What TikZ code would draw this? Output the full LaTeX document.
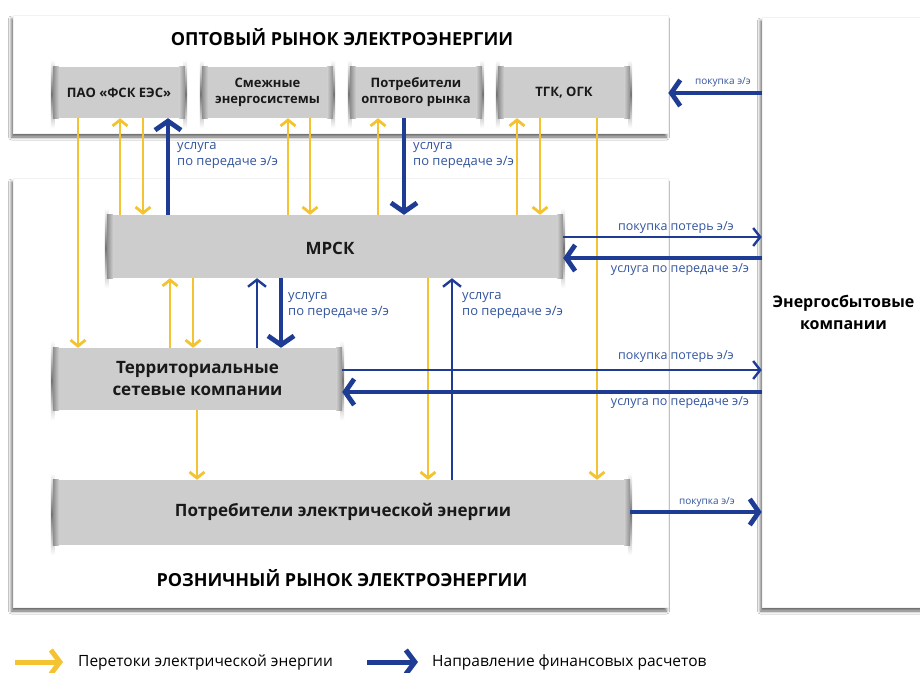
\documentclass[tikz,border=0pt]{standalone}
\usepackage{fontspec}
\setmainfont{Open Sans}
\usetikzlibrary{arrows.meta,shadows.blur}
\definecolor{ylw}{HTML}{F4C332}
\definecolor{blu}{HTML}{1E3C94}
\definecolor{lbl}{HTML}{34559E}
\definecolor{gfill}{HTML}{CDCDCD}
\tikzset{
  market/.style={draw=black!5, fill=white, line width=0.6pt,
    blur shadow={shadow xshift=-1.5pt, shadow yshift=-4pt, shadow blur radius=3pt, shadow opacity=60}},
  gbox/.style={fill=gfill, inner sep=0pt, font=\bfseries, align=center, text=black!90},
  ya/.style={draw=ylw, line width=2.8pt, -{Straight Barb[length=6pt,width=15pt]}},
  bthick/.style={draw=blu, line width=4.8pt, -{Straight Barb[length=9pt,width=26pt]}},
  bthin/.style={draw=blu, line width=2.4pt, -{Straight Barb[length=7pt,width=18pt]}},
  lab/.style={text=lbl, inner sep=0pt, align=left},
}
\newcommand\rollers[1]{%
  \shade[top color=white, bottom color=white, middle color=black!55]
    ([xshift=-2pt,yshift=7pt]#1.north west) rectangle ([xshift=2pt,yshift=-10pt]#1.south west);
  \shade[top color=white, bottom color=white, middle color=black!55]
    ([xshift=-2pt,yshift=7pt]#1.north east) rectangle ([xshift=2pt,yshift=-10pt]#1.south east);
  \shade[left color=black!45, right color=gfill] (#1.north west) rectangle ([xshift=6pt]#1.south west);
  \shade[right color=black!45, left color=gfill] (#1.north east) rectangle ([xshift=-6pt]#1.south east);
}
\begin{document}
\begin{tikzpicture}[x=1pt,y=-1pt]
\useasboundingbox[fill=white] (0,0) rectangle (920,672);
% outer boxes
\node[market, minimum width=655pt, minimum height=118pt, inner sep=0pt] (wm) at (340.5,74) {};
\node[market, minimum width=655pt, minimum height=429pt, inner sep=0pt] (rm) at (340.5,392.5) {};
\node[market, minimum width=163pt, minimum height=590pt, inner sep=0pt, font=\bfseries\fontsize{16}{22}\selectfont, align=center] (es) at (843.5,312) {Энергосбытовые\\компании};
\node[font=\bfseries\fontsize{18}{20}\selectfont] (wmt) at (342,37) {ОПТОВЫЙ РЫНОК ЭЛЕКТРОЭНЕРГИИ};
\node[font=\bfseries\fontsize{18}{20}\selectfont] (rmt) at (342,578) {РОЗНИЧНЫЙ РЫНОК ЭЛЕКТРОЭНЕРГИИ};
% grey boxes
\node[gbox, minimum width=132pt, minimum height=51pt] (fsk) at (119,92.5) {};
\node[gbox, minimum width=131pt, minimum height=51pt] (sm) at (267.5,92.5) {};
\node[gbox, minimum width=132pt, minimum height=51pt] (po) at (416,92.5) {};
\node[gbox, minimum width=132pt, minimum height=51pt] (tgk) at (564,92.5) {};
\node[gbox, minimum width=456pt, minimum height=63pt] (mrsk) at (335,246.5) {};
\node[gbox, minimum width=289pt, minimum height=62pt] (tsk) at (197.5,379) {};
\node[gbox, minimum width=577pt, minimum height=65pt] (pee) at (341.5,512.5) {};
\rollers{fsk}\rollers{sm}\rollers{po}\rollers{tgk}\rollers{mrsk}\rollers{tsk}\rollers{pee}
\begin{scope}[font=\bfseries\fontsize{13}{16}\selectfont, align=center, text=black!90]
\node (fskt) at (fsk) {ПАО «ФСК ЕЭС»};
\node (smt) at (sm) {Смежные\\энергосистемы};
\node (pot) at (po) {Потребители\\оптового рынка};
\node (tgkt) at (tgk) {ТГК, ОГК};
\end{scope}
\begin{scope}[font=\bfseries\fontsize{17}{22}\selectfont, align=center, text=black!90]
\node (mrskt) at (330,248) {МРСК};
\node (tskt) at (tsk) {Территориальные\\сетевые компании};
\node (peet) at (343,512) {Потребители электрической энергии};
\end{scope}
% column and row coordinates
\foreach \n/\x in {A/78,B/120,C/143,D/168,E/288,F/310,G/378,H/404,I/517,J/540,K/597,L/170,M/193,N/257,O/281,P/428,Q/452,R/197}
  \coordinate (c\n) at (\x,0);
\foreach \n/\y in {1/93,2/237,3/258,4/370,5/392,6/512}
  \coordinate (r\n) at (0,\y);
% vertical arrows
\draw[ya] (cA |- fsk.south) -- (cA |- tsk.north);
\draw[ya] (cB |- mrsk.north) -- (cB |- fsk.south);
\draw[ya] (cC |- fsk.south) -- (cC |- mrsk.north);
\draw[bthick] (cD |- mrsk.north) -- (cD |- fsk.south);
\draw[ya] (cE |- mrsk.north) -- (cE |- sm.south);
\draw[ya] (cF |- sm.south) -- (cF |- mrsk.north);
\draw[ya] (cG |- mrsk.north) -- (cG |- po.south);
\draw[bthick] (cH |- po.south) -- (cH |- mrsk.north);
\draw[ya] (cI |- mrsk.north) -- (cI |- tgk.south);
\draw[ya] (cJ |- tgk.south) -- (cJ |- mrsk.north);
\draw[ya] (cK |- tgk.south) -- (cK |- pee.north);
\draw[ya] (cL |- tsk.north) -- (cL |- mrsk.south);
\draw[ya] (cM |- mrsk.south) -- (cM |- tsk.north);
\draw[bthin] (cN |- tsk.north) -- (cN |- mrsk.south);
\draw[bthick] (cO |- mrsk.south) -- (cO |- tsk.north);
\draw[ya] (cP |- mrsk.south) -- (cP |- pee.north);
\draw[bthin] (cQ |- pee.north) -- (cQ |- mrsk.south);
\draw[ya] (cR |- tsk.south) -- (cR |- pee.north);
% horizontal arrows
\draw[bthick] (es.west |- r1) -- (wm.east |- r1);
\draw[bthin] (mrsk.east |- r2) -- (es.west |- r2);
\draw[bthick] (es.west |- r3) -- (mrsk.east |- r3);
\draw[bthin] (tsk.east |- r4) -- (es.west |- r4);
\draw[bthick] (es.west |- r5) -- (tsk.east |- r5);
\draw[bthick] (pee.east |- r6) -- (es.west |- r6);
% labels
\begin{scope}[font=\fontsize{13}{16}\selectfont]
\node[lab, anchor=north west] (l1) at (177,142) {услуга\\по передаче э/э};
\node[lab, anchor=north west] (l2) at (413,142) {услуга\\по передаче э/э};
\node[lab, anchor=north west] (l3) at (288,292) {услуга\\по передаче э/э};
\node[lab, anchor=north west] (l4) at (462,292) {услуга\\по передаче э/э};
\end{scope}
\begin{scope}[font=\fontsize{12.5}{14}\selectfont]
\node[lab] (h2) at (676,228) {покупка потерь э/э};
\node[lab] (h3) at (680,270) {услуга по передаче э/э};
\node[lab] (h4) at (676,357) {покупка потерь э/э};
\node[lab] (h5) at (680,403) {услуга по передаче э/э};
\end{scope}
\begin{scope}[font=\fontsize{10}{12}\selectfont]
\node[lab] (h1) at (723,82) {покупка э/э};
\node[lab] (h6) at (707,502) {покупка э/э};
\end{scope}
% legend
\coordinate (ly1) at (15,662); \coordinate (ly2) at (63,662);
\coordinate (lb1) at (367,662); \coordinate (lb2) at (418,662);
\draw[draw=ylw, line width=5pt, -{Straight Barb[length=9pt,width=24pt]}] (ly1) -- (ly2);
\draw[draw=blu, line width=5pt, -{Straight Barb[length=9pt,width=24pt]}] (lb1) -- (lb2);
\node[anchor=west, inner sep=0pt, font=\fontsize{15.5}{18}\selectfont] (lgy) at (78,662) {Перетоки электрической энергии};
\node[anchor=west, inner sep=0pt, font=\fontsize{15.5}{18}\selectfont] (lgb) at (432,662) {Направление финансовых расчетов};
\end{tikzpicture}
\end{document}
